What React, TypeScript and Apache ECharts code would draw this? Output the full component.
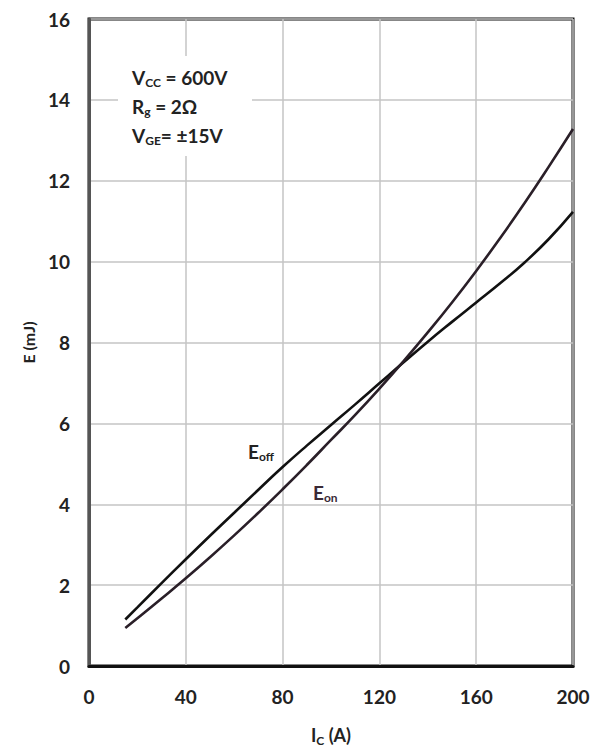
import React, { useEffect, useRef } from "react";
import * as echarts from "echarts";

const xTicks = [0, 40, 80, 120, 160, 200];
const yTicks = [0, 2, 4, 6, 8, 10, 12, 14, 16];

const eoffCurrent = [15, 20, 30, 40, 50, 60, 70, 80, 90, 100, 110, 120, 130, 140, 150, 160, 170, 180, 190, 200];
const eoffEnergy = [1.15, 1.45, 2.05, 2.64, 3.22, 3.79, 4.36, 4.92, 5.45, 5.96, 6.47, 6.99, 7.51, 8.02, 8.51, 8.99, 9.47, 9.98, 10.56, 11.23];

const eonCurrent = [15, 20, 30, 40, 50, 60, 70, 80, 90, 100, 110, 120, 130, 140, 150, 160, 170, 180, 190, 200];
const eonEnergy = [0.94, 1.18, 1.67, 2.17, 2.69, 3.23, 3.79, 4.37, 4.97, 5.59, 6.21, 6.86, 7.54, 8.25, 8.99, 9.77, 10.59, 11.45, 12.35, 13.28];

const FONT = "Lato";

export default function App() {
  const ref = useRef<HTMLDivElement>(null);
  useEffect(() => {
    if (!ref.current) return;
    const chart = echarts.init(ref.current, null, { renderer: "svg" });
    const eoff = eoffCurrent.map((c, i) => [c, eoffEnergy[i]]);
    const eon = eonCurrent.map((c, i) => [c, eonEnergy[i]]);
    const labelStyle = {
      color: "#222",
      fontFamily: FONT,
      fontWeight: "bold" as const,
      fontSize: 19,
    };
    chart.setOption({
      animation: false,
      backgroundColor: "#ffffff",
      grid: {
        left: 89,
        right: 22,
        top: 19,
        bottom: 82,
        show: true,
        borderColor: "#111",
        borderWidth: 3,
        backgroundColor: "transparent",
      },
      xAxis: {
        type: "value",
        min: 0,
        max: 200,
        interval: 40,
        name: "{i|I}{s|C}{i| (A)}",
        nameLocation: "middle",
        nameGap: 58,
        nameTextStyle: {
          rich: {
            i: { ...labelStyle, fontSize: 18 },
            s: { ...labelStyle, fontSize: 12, verticalAlign: "bottom", padding: [10, 0, 0, 0] },
          },
        },
        axisLine: { show: true, lineStyle: { color: "#111", width: 3 } },
        axisTick: { show: false },
        axisLabel: { ...labelStyle, margin: 21, formatter: (v: number) => (xTicks.includes(v) ? String(v) : "") },
        splitLine: { show: true, lineStyle: { color: "#c4c4c4", width: 1.5 } },
      },
      yAxis: {
        type: "value",
        min: 0,
        max: 16,
        interval: 2,
        name: "E (mJ)",
        nameLocation: "middle",
        nameGap: 53,
        nameTextStyle: { ...labelStyle, fontSize: 16 },
        axisLine: { show: true, lineStyle: { color: "#555", width: 3 } },
        axisTick: { show: false },
        axisLabel: { ...labelStyle, margin: 19, formatter: (v: number) => (yTicks.includes(v) ? String(v) : "") },
        splitLine: { show: true, lineStyle: { color: "#c4c4c4", width: 1.5 } },
      },
      series: [
        {
          name: "Eoff",
          type: "line",
          data: eoff,
          smooth: true,
          symbol: "none",
          lineStyle: { color: "#111", width: 2.6 },
          z: 3,
        },
        {
          name: "Eon",
          type: "line",
          data: eon,
          smooth: true,
          symbol: "none",
          lineStyle: { color: "#2a1f28", width: 2.6 },
          z: 3,
        },
      ],
      graphic: [
        {
          type: "rect",
          shape: { x: 118, y: 56, width: 134, height: 100 },
          style: { fill: "#ffffff" },
          z: 1,
        },
        {
          type: "text",
          x: 132,
          y: 63,
          z: 5,
          style: {
            text: "{m|V}{s|CC}{m| = 600V}\n{m|R}{s|g}{m| = 2Ω}\n{m|V}{s|GE}{m|= ±15V}",
            fill: "#222",
            lineHeight: 29,
            rich: {
              m: { fontFamily: FONT, fontWeight: "bold", fontSize: 19, fill: "#222", lineHeight: 29 },
              s: { fontFamily: FONT, fontWeight: "bold", fontSize: 12, fill: "#222", lineHeight: 29, padding: [10, 0, 0, 0] },
            },
          },
        },
        {
          type: "text",
          x: 248,
          y: 440,
          z: 5,
          style: {
            text: "{m|E}{s|off}",
            rich: {
              m: { fontFamily: FONT, fontWeight: "bold", fontSize: 19, fill: "#222" },
              s: { fontFamily: FONT, fontWeight: "bold", fontSize: 12, fill: "#222", padding: [10, 0, 0, 0] },
            },
          },
        },
        {
          type: "text",
          x: 313,
          y: 481,
          z: 5,
          style: {
            text: "{m|E}{s|on}",
            rich: {
              m: { fontFamily: FONT, fontWeight: "bold", fontSize: 19, fill: "#3a2a36" },
              s: { fontFamily: FONT, fontWeight: "bold", fontSize: 12, fill: "#3a2a36", padding: [10, 0, 0, 0] },
            },
          },
        },
      ],
    });
    return () => chart.dispose();
  }, []);
  return <div ref={ref} style={{ width: 595, height: 751, position: "absolute", left: 0, top: 0 }} />;
}
